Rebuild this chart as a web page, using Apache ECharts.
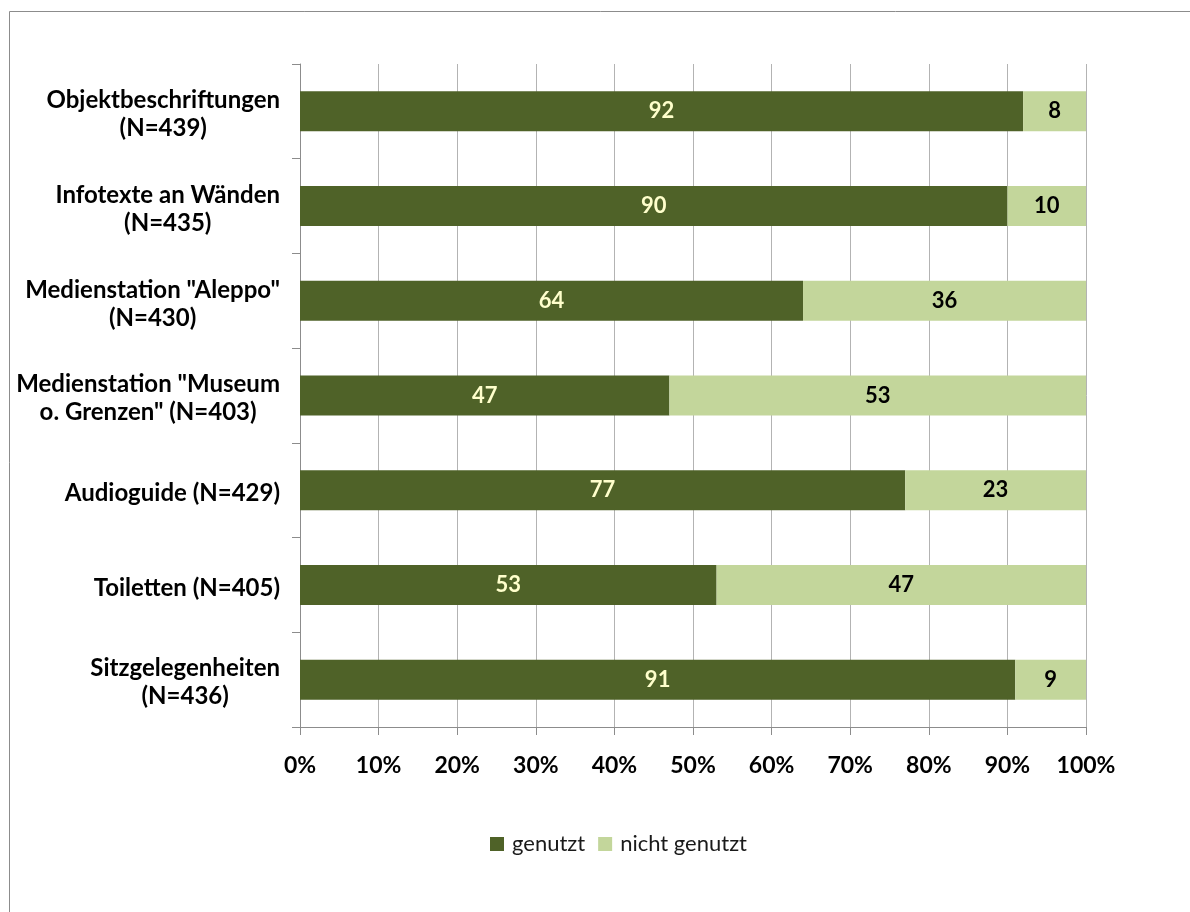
<!DOCTYPE html>
<html>
<head>
<meta charset="utf-8">
<script src="https://cdn.jsdelivr.net/npm/echarts@6/dist/echarts.min.js"></script>
<style>
  html, body { margin: 0; padding: 0; background: #fff; }
  #chart { width: 1190px; height: 912px; }
</style>
</head>
<body>
<div id="chart"></div>
<script>
// Nutzung der Angebote in der Ausstellung (Anteile in Prozent)
const categories = [
  'Objektbeschriftungen\n(N=439)',
  'Infotexte an Wänden\n(N=435)',
  'Medienstation "Aleppo"\n(N=430)',
  'Medienstation "Museum\no. Grenzen" (N=403)',
  'Audioguide (N=429)',
  'Toiletten (N=405)',
  'Sitzgelegenheiten\n(N=436)'
];
const genutzt = [92, 90, 64, 47, 77, 53, 91];
const nichtGenutzt = [8, 10, 36, 53, 23, 47, 9];
const seriesNames = ['genutzt', 'nicht genutzt'];
const xTicks = [0, 10, 20, 30, 40, 50, 60, 70, 80, 90, 100];

const FONT = 'Lato, "Open Sans", sans-serif';

const chart = echarts.init(document.getElementById('chart'), null, { renderer: 'canvas' });

const labelStyle = {
  show: true,
  position: 'inside',
  fontFamily: FONT,
  fontWeight: 'bold',
  fontSize: 22
};

chart.setOption({
  backgroundColor: '#fff',
  animation: false,
  graphic: [{
    type: 'rect',
    shape: { x: 9.5, y: 11.5, width: 1200, height: 920 },
    style: { fill: 'none', stroke: '#8c8c8c', lineWidth: 1 },
    silent: true
  }],
  grid: { left: 300, right: 104, top: 64, bottom: 185, containLabel: false },
  legend: {
    bottom: 52,
    left: 485,
    itemWidth: 14,
    itemHeight: 14,
    itemGap: 13,
    icon: 'rect',
    textStyle: { fontFamily: FONT, fontSize: 22, color: '#1a1a1a', padding: [2, 0, 0, 3] },
    data: seriesNames
  },
  xAxis: {
    type: 'value',
    min: xTicks[0],
    max: xTicks[xTicks.length - 1],
    interval: 10,
    axisLine: { show: true, lineStyle: { color: '#8c8c8c' } },
    axisTick: { show: true, length: 8, lineStyle: { color: '#8c8c8c' } },
    splitLine: { show: true, lineStyle: { color: '#b3b3b3' } },
    axisLabel: {
      margin: 27,
      fontFamily: FONT,
      fontWeight: 'bold',
      fontSize: 23,
      color: '#000',
      formatter: v => v + '%'
    }
  },
  yAxis: {
    type: 'category',
    inverse: true,
    data: categories,
    axisLine: { show: true, onZero: false, lineStyle: { color: '#8c8c8c' } },
    axisTick: { show: true, length: 8, lineStyle: { color: '#8c8c8c' } },
    axisLabel: {
      margin: 20,
      align: 'right',
      padding: [6, 0, 0, 0],
      formatter: v => v.split('\n').map(s => '{c|' + s + '}').join('\n'),
      rich: {
        c: {
          align: 'center',
          fontFamily: FONT,
          fontWeight: 'bold',
          fontSize: 24,
          lineHeight: 28,
          color: '#000'
        }
      }
    }
  },
  series: [
    {
      name: seriesNames[0],
      type: 'bar',
      stack: 'total',
      barWidth: 40,
      itemStyle: { color: '#4f6228' },
      label: Object.assign({ color: '#ffffcc' }, labelStyle),
      data: genutzt
    },
    {
      name: seriesNames[1],
      type: 'bar',
      stack: 'total',
      barWidth: 40,
      itemStyle: { color: '#c3d69b' },
      label: Object.assign({ color: '#000' }, labelStyle),
      data: nichtGenutzt
    }
  ]
});
</script>
</body>
</html>
